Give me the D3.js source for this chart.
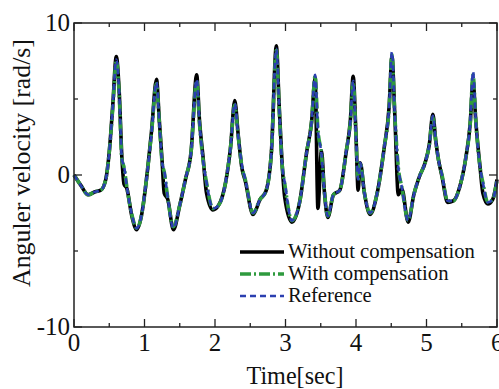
<!DOCTYPE html>
<html>
<head>
<meta charset="utf-8">
<script src="https://cdn.jsdelivr.net/npm/d3@7"></script>
<style>
  body { margin: 0; background: #fff; }
</style>
</head>
<body>
<div class="vis-chart"></div>
<script>
// time [sec]
const time = [0, 0.1, 0.2, 0.3, 0.38, 0.45, 0.5, 0.55, 0.6, 0.64, 0.68, 0.71, 0.75, 0.82, 0.89, 0.96,
  1.03, 1.1, 1.17, 1.21, 1.25, 1.28, 1.33, 1.41, 1.5, 1.58, 1.66, 1.74, 1.78, 1.83, 1.88, 1.97,
  2.05, 2.15, 2.22, 2.28, 2.33, 2.38, 2.43, 2.54, 2.64, 2.72, 2.8, 2.87, 2.91, 2.95, 2.99, 3.09,
  3.2, 3.3, 3.37, 3.42, 3.46, 3.51, 3.55, 3.6, 3.68, 3.77, 3.86, 3.92, 3.96, 4.0, 4.03, 4.06,
  4.12, 4.2, 4.3, 4.4, 4.47, 4.51, 4.55, 4.6, 4.65, 4.74, 4.82, 4.9, 4.98, 5.04, 5.09, 5.13,
  5.17, 5.22, 5.3, 5.38, 5.47, 5.56, 5.62, 5.66, 5.7, 5.76, 5.8, 5.87, 5.94, 6.0];

const reference = [0, -0.7, -1.3, -1.1, -1.0, -0.3, 1.5, 4.5, 7.6, 5.5, 1.0, 0.6, -0.8, -2.6, -3.5, -2.6,
  -0.2, 2.8, 6.1, 3.5, 0.8, 0.3, -1.5, -3.5, -2.0, -0.3, 1.5, 6.3, 3.5, 1.0, -0.5, -2.2,
  -2.0, -0.5, 1.8, 4.7, 2.5, 0.7, -0.3, -2.5, -1.6, -1.1, 1.5, 8.3, 4.5, 0.8, -0.5, -3.0,
  -1.8, 1.5, 3.5, 6.6, 3.0, 1.4, -1.0, -2.7, -1.3, -1.0, 1.5, 3.5, 6.2, 2.5, -0.3, 0.8,
  -1.2, -2.5, -1.2, 1.8, 4.5, 8.1, 4.0, 0.5, -0.8, -3.0, -1.3, -0.1, 0.8, 2.0, 3.9, 2.3,
  1.0, 0.0, -1.7, -1.7, -0.8, 1.2, 3.5, 6.8, 3.5, 0.5, -0.5, -1.8, -1.6, -0.3];

const withComp = [0, -0.7, -1.3, -1.1, -1.0, -0.3, 1.5, 4.4, 7.5, 5.4, 1.0, 0.5, -0.8, -2.6, -3.5, -2.6,
  -0.2, 2.8, 6.0, 3.5, 0.8, 0.2, -1.5, -3.4, -2.0, -0.3, 1.5, 6.2, 3.4, 1.0, -0.5, -2.2,
  -2.0, -0.5, 1.8, 4.6, 2.5, 0.6, -0.3, -2.5, -1.6, -1.1, 1.5, 8.2, 4.4, 0.8, -0.6, -3.0,
  -1.8, 1.5, 3.5, 6.5, 3.0, 1.4, -1.0, -2.7, -1.3, -1.0, 1.5, 3.5, 6.1, 2.5, -0.3, 0.8,
  -1.2, -2.5, -1.2, 1.8, 4.4, 7.9, 4.0, 0.5, -0.8, -3.0, -1.3, -0.1, 0.8, 2.0, 3.8, 2.3,
  1.0, 0.0, -1.7, -1.7, -0.8, 1.2, 3.4, 6.6, 3.5, 0.5, -0.5, -1.8, -1.6, -0.3];

const withoutComp = [0, -0.7, -1.3, -1.1, -1.0, -0.3, 1.5, 4.6, 7.8, 5.6, 1.1, -0.6, -0.9, -2.7, -3.6, -2.6,
  -0.2, 2.9, 6.3, 3.6, 0.9, -1.2, -1.6, -3.6, -2.0, -0.3, 1.5, 6.6, 3.6, 1.2, -1.2, -2.3,
  -2.0, -0.5, 1.8, 4.9, 2.6, 0.5, -0.4, -2.6, -1.6, -1.1, 1.5, 8.5, 4.6, 0.9, -1.5, -3.1,
  -1.8, 1.5, 3.5, 6.4, -2.2, 1.6, -1.0, -2.8, -1.3, -1.0, 1.5, 3.6, 6.5, 2.6, -1.0, 0.8,
  -1.2, -2.6, -1.2, 1.8, 4.5, 7.8, 4.0, -1.3, -0.9, -3.1, -1.3, -0.1, 0.8, 2.0, 4.0, 2.3,
  1.0, -0.1, -1.8, -1.7, -0.8, 1.2, 3.4, 6.2, 3.5, 0.5, -1.2, -1.9, -1.6, -0.3];

const xTicks = [0, 1, 2, 3, 4, 5, 6];
const yTicks = [-10, 0, 10];
const seriesNames = ['Without compensation', 'With compensation', 'Reference'];

const FONT = '"Liberation Serif", "Times New Roman", serif';

// scale a text's font size so it spans the wanted width
const fitText = (sel, target) => {
    const len = sel.node().getComputedTextLength();
    const fs = parseFloat(sel.style('font-size'));
    sel.style('font-size', (fs * target / len).toFixed(2) + 'px');
};

const draw = () => {
    const width = 499, height = 389;
    const margin = { top: 23, right: 2, bottom: 62, left: 74 };
    const w = width - margin.left - margin.right;
    const h = height - margin.top - margin.bottom;

    const svg = d3.select('.vis-chart')
        .append('svg')
        .attr('width', width)
        .attr('height', height);

    const g = svg.append('g')
        .attr('transform', 'translate(' + margin.left + ',' + margin.top + ')');

    const x = d3.scaleLinear().domain([0, 6]).range([0, w]);
    const y = d3.scaleLinear().domain([-10, 10]).range([h, 0]);

    // series styles
    const series = [
        { name: seriesNames[0], values: withoutComp, color: '#000000', width: 3.6, dash: null },
        { name: seriesNames[1], values: withComp, color: '#2e9a3e', width: 3.6, dash: '11,3,2,3' },
        { name: seriesNames[2], values: reference, color: '#2b3fb0', width: 2.6, dash: '6,4' }
    ];

    const lineGen = d3.line()
        .x(d => x(d[0]))
        .y(d => y(d[1]))
        .curve(d3.curveMonotoneX);

    const lineLayer = g.append('g').attr('id', 'lineLayer');
    series.forEach(s => {
        lineLayer.append('path')
            .attr('d', lineGen(time.map((t, i) => [t, s.values[i]])))
            .attr('fill', 'none')
            .attr('stroke', s.color)
            .attr('stroke-width', s.width)
            .attr('stroke-linejoin', 'round')
            .attr('stroke-dasharray', s.dash);
    });

    // frame with inward ticks on all four sides
    const xMinor = d3.range(0, 6.01, 0.5);
    const yMinor = [-5, 5];
    const tickLayer = g.append('g').attr('stroke', '#222').attr('stroke-width', 1.3);
    xMinor.forEach(v => {
        const len = Number.isInteger(v) ? 8 : 4;
        tickLayer.append('line').attr('x1', x(v)).attr('x2', x(v)).attr('y1', h).attr('y2', h - len);
        tickLayer.append('line').attr('x1', x(v)).attr('x2', x(v)).attr('y1', 0).attr('y2', len);
    });
    yTicks.concat(yMinor).forEach(v => {
        const len = yMinor.includes(v) ? 4 : 8;
        tickLayer.append('line').attr('x1', 0).attr('x2', len).attr('y1', y(v)).attr('y2', y(v));
        tickLayer.append('line').attr('x1', w).attr('x2', w - len).attr('y1', y(v)).attr('y2', y(v));
    });
    g.append('rect')
        .attr('width', w).attr('height', h)
        .attr('fill', 'none')
        .attr('stroke', '#222')
        .attr('stroke-width', 1.5);

    // tick labels
    g.selectAll('.xlab')
        .data(xTicks)
        .join('text')
        .attr('class', 'xlab')
        .attr('x', d => x(d))
        .attr('y', h + 24)
        .attr('text-anchor', d => d === 6 ? 'start' : 'middle')
        .attr('dx', d => d === 6 ? -6 : 0)
        .attr('fill', '#111')
        .style('font-family', FONT)
        .style('font-size', '25px')
        .text(d => d);

    g.selectAll('.ylab')
        .data(yTicks)
        .join('text')
        .attr('class', 'ylab')
        .attr('x', -4)
        .attr('y', d => y(d) + 8)
        .attr('text-anchor', 'end')
        .attr('fill', '#111')
        .style('font-family', FONT)
        .style('font-size', '25px')
        .text(d => d);

    // axis titles
    const xTitle = svg.append('text')
        .attr('x', 295)
        .attr('y', 384)
        .attr('text-anchor', 'middle')
        .attr('fill', '#111')
        .style('font-family', FONT)
        .style('font-size', '24px')
        .text('Time[sec]');
    fitText(xTitle, 97);

    const yTitle = svg.append('text')
        .attr('transform', 'translate(30,163)rotate(-90)')
        .attr('text-anchor', 'middle')
        .attr('fill', '#111')
        .style('font-family', FONT)
        .style('font-size', '24px')
        .text('Anguler velocity [rad/s]');
    fitText(yTitle, 248);

    // legend
    const legend = g.append('g').attr('transform', 'translate(' + (240 - margin.left) + ',' + (252 - margin.top) + ')');
    series.forEach((s, i) => {
        const row = legend.append('g').attr('transform', 'translate(0,' + (i * 22) + ')');
        row.append('line')
            .attr('x1', 0).attr('x2', 44)
            .attr('stroke', s.color)
            .attr('stroke-width', s.width)
            .attr('stroke-dasharray', s.dash);
        const label = row.append('text')
            .attr('x', 48)
            .attr('y', 6)
            .attr('fill', '#111')
            .style('font-family', FONT)
            .style('font-size', '19px')
            .text(s.name);
        if (i === 0) fitText(label, 187);
        else label.style('font-size', legend.select('text').style('font-size'));
    });

    return svg;
};

draw();
</script>
</body>
</html>
